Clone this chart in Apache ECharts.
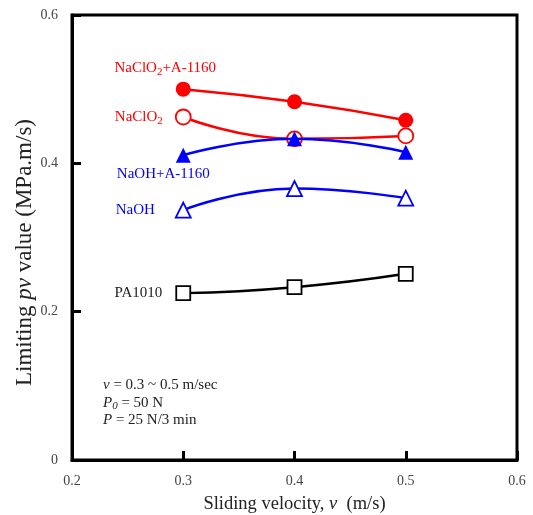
<!DOCTYPE html>
<html><head><meta charset="utf-8">
<script src="https://cdn.jsdelivr.net/npm/echarts@6/dist/echarts.min.js"></script>
<style>html,body{margin:0;padding:0;background:#fff}#c{width:533px;height:515px}</style>
</head><body><div id="c"></div>
<script>
const velocities = [0.3, 0.4, 0.5];
const naclo2A = [0.500, 0.483, 0.458];
const naclo2 = [0.4625, 0.433, 0.437];
const naohA = [0.411, 0.433, 0.415];
const naoh = [0.337, 0.366, 0.353];
const pa1010 = [0.225, 0.233, 0.251];
const xTicks = [0.2, 0.3, 0.4, 0.5, 0.6];
const yTicks = [0, 0.2, 0.4, 0.6];

const SERIF = '"Liberation Serif","Times New Roman",serif';

function mk(name, vals, color, symbol, filled, label) {
  const data = vals.map((v, i) => {
    const d = {value: [velocities[i], v]};
    if (i === 0) d.label = Object.assign({show: true, formatter: label.text, color: color,
      fontFamily: SERIF, fontSize: 15,
      rich: {s: {fontFamily: SERIF, fontSize: 11, color: color, padding: [8, 0, 0, 0]}}}, label.opts);
    return d;
  });
  return {
    name, type: 'line', data, smooth: 0.5, symbol,
    symbolSize: symbol === 'circle' ? 15 : (symbol === 'rect' ? 14 : 15),
    lineStyle: {color, width: 2.5},
    itemStyle: {color: filled ? color : '#fff', borderColor: color, borderWidth: filled ? 0 : 1.8},
    z: filled ? 3 : 2
  };
}

const chart = echarts.init(document.getElementById('c'), null, {renderer: 'canvas'});
chart.setOption({
  animation: false,
  backgroundColor: '#fff',
  grid: {left: 72, right: 16, top: 15, bottom: 55, containLabel: false, outerBoundsMode: 'none',
    show: true, borderColor: '#000', borderWidth: 3, backgroundColor: 'transparent'},
  xAxis: {
    type: 'value', min: xTicks[0], max: xTicks[xTicks.length - 1], interval: 0.1,
    name: '{n|Sliding velocity, }{i|v}{n|  (m/s)}', nameLocation: 'middle', nameGap: 35, nameMoveOverlap: false,
    nameTextStyle: {rich: {n: {fontFamily: SERIF, fontSize: 18.5, color: '#222'}, i: {fontFamily: SERIF, fontSize: 18.5, fontStyle: 'italic', color: '#222'}}},
    axisLine: {show: true, lineStyle: {color: '#000', width: 3}},
    axisTick: {show: true, inside: true, length: 9, lineStyle: {color: '#000', width: 3}},
    axisLabel: {formatter: v => v.toFixed(1), fontFamily: SERIF, fontSize: 14, color: '#444', margin: 14},
    splitLine: {show: false}
  },
  yAxis: {
    type: 'value', min: yTicks[0], max: yTicks[yTicks.length - 1], interval: 0.2,
    name: '{n|Limiting }{i|pv}{n| value (MPa.m/s)}', nameLocation: 'middle', nameGap: 36, nameMoveOverlap: false,
    nameTextStyle: {padding: [0, 30, 0, 0], rich: {n: {fontFamily: SERIF, fontSize: 23, color: '#222'}, i: {fontFamily: SERIF, fontSize: 23, fontStyle: 'italic', color: '#222'}}},
    axisLine: {show: true, lineStyle: {color: '#000', width: 3}},
    axisTick: {show: true, inside: true, length: 9, lineStyle: {color: '#000', width: 3}},
    axisLabel: {formatter: v => v === 0 ? '0' : v.toFixed(1), fontFamily: SERIF, fontSize: 14, color: '#444', margin: 14},
    splitLine: {show: false}
  },
  series: [
    mk('PA1010', pa1010, '#000', 'rect', false, {text: 'PA1010', opts: {position: 'left', distance: 13, color: '#222'}}),
    mk('NaOH', naoh, '#0000ff', 'triangle', false, {text: 'NaOH', opts: {position: 'left', distance: 20}}),
    mk('NaOH+A-1160', naohA, '#0000ff', 'triangle', true, {text: 'NaOH+A-1160', opts: {position: 'bottom', distance: 4, offset: [-20, 0]}}),
    mk('NaClO2', naclo2, '#ff0000', 'circle', false, {text: 'NaClO{s|2}', opts: {position: 'left', distance: 12}}),
    mk('NaClO2+A-1160', naclo2A, '#ff0000', 'circle', true, {text: 'NaClO{s|2}+A-1160', opts: {position: 'top', distance: 4, offset: [-18, 0]}})
  ],
  graphic: [{
    type: 'text', left: 103, top: 378,
    style: {
      text: '{i|v}{n| = 0.3 ~ 0.5 m/sec}\n{i|P}{is|0}{n| = 50 N}\n{i|P}{n| = 25 N/3 min}',
      rich: {
        n: {fontFamily: SERIF, fontSize: 15, fill: '#222', lineHeight: 17.5},
        i: {fontFamily: SERIF, fontSize: 15, fontStyle: 'italic', fill: '#222', lineHeight: 17.5},
        is: {fontFamily: SERIF, fontSize: 11, fontStyle: 'italic', fill: '#222', padding: [6, 0, 0, 0]}
      }
    }
  }]
});
</script></body></html>
